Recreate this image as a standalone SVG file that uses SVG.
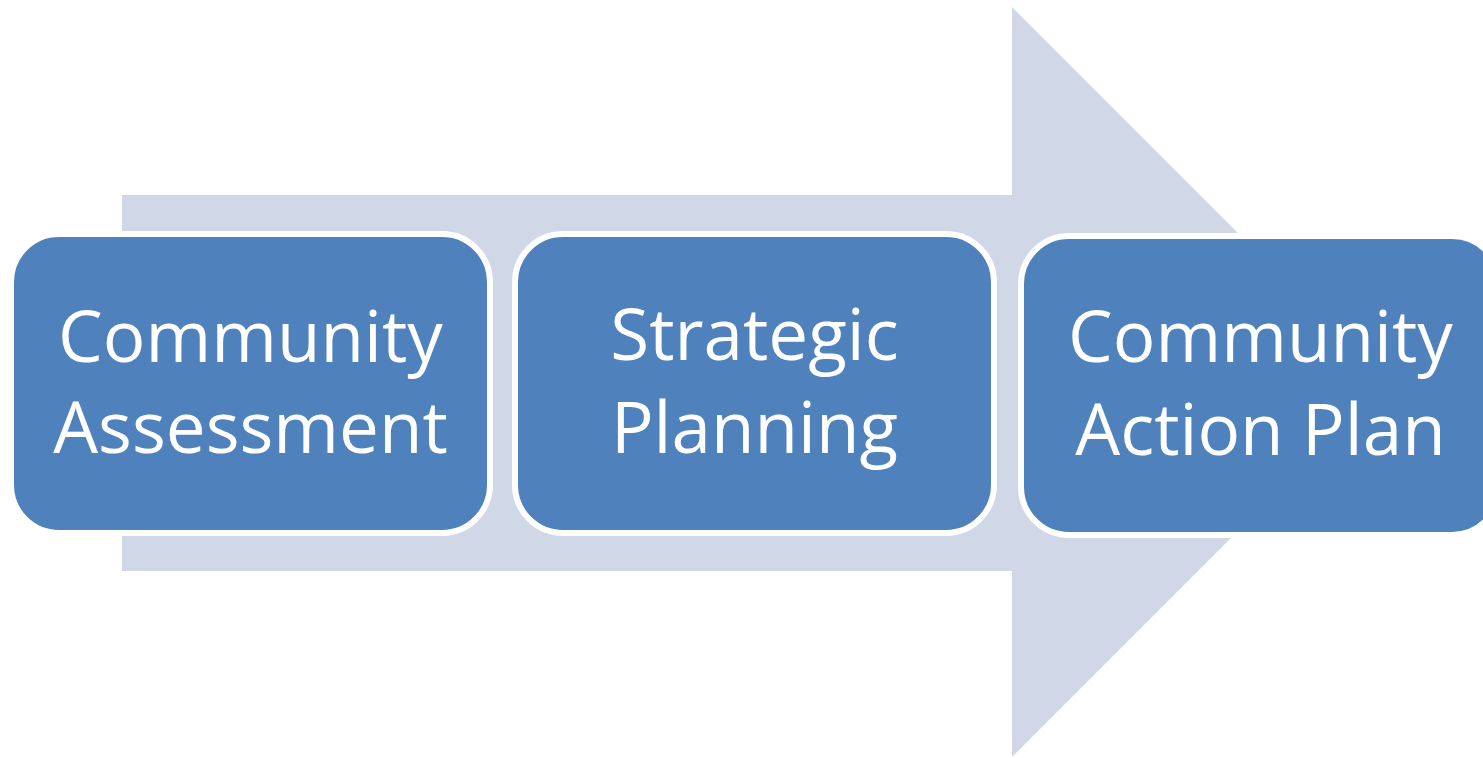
<svg xmlns="http://www.w3.org/2000/svg" width="1483" height="758" viewBox="0 0 1483 758">
<style>
.box{fill:#4F81BD;stroke:#FFFFFF;stroke-width:6}
.lbl{fill:#FFFFFF;font-family:"Open Sans","Noto Sans",sans-serif;font-size:71px;text-anchor:middle}
</style>
<rect width="1483" height="758" fill="#FFFFFF"/>
<g id="connectors">
<polygon id="arrow" points="122,195 1012,195 1012,7 1387,382 1012,757 1012,571 122,571" fill="#D0D8E8"/>
</g>
<g id="node1">
<rect class="box" x="11" y="234" width="479" height="299" rx="48" ry="48"/>
<text class="lbl" x="250.5" y="362">Community</text>
<text class="lbl" x="250.5" y="453">Assessment</text>
</g>
<g id="node2">
<rect class="box" x="515" y="234" width="479" height="299" rx="48" ry="48"/>
<text class="lbl" x="754.5" y="360">Strategic</text>
<text class="lbl" x="754.5" y="453">Planning</text>
</g>
<g id="node3">
<rect class="box" x="1021" y="236" width="479" height="299" rx="48" ry="48"/>
<text class="lbl" x="1260.5" y="362">Community</text>
<text class="lbl" x="1260.5" y="455">Action Plan</text>
</g>
</svg>
